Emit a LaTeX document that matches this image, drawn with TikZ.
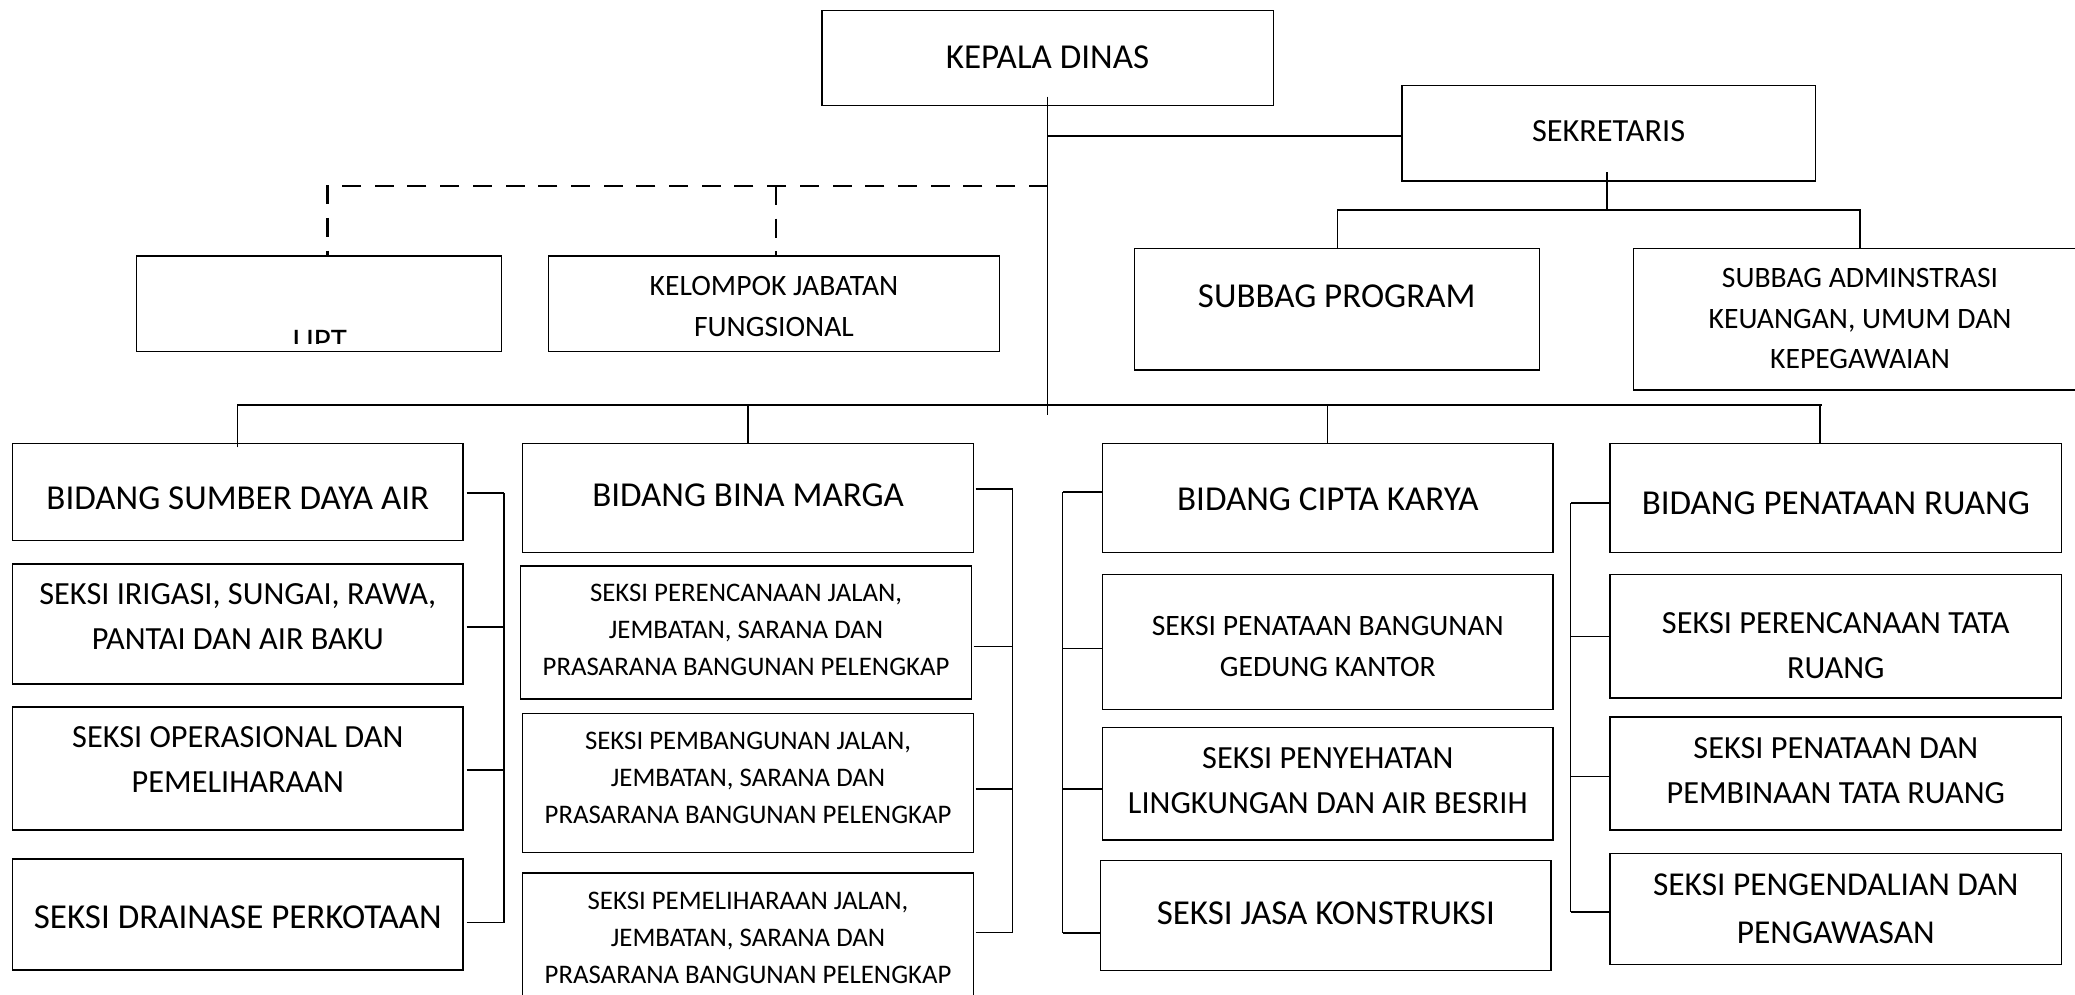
\documentclass[tikz,border=0pt]{standalone}
\usepackage{fontspec}
\setmainfont{Carlito}
\begin{document}
\begin{tikzpicture}[x=1pt,y=-1pt,
  box/.style={draw, line width=1.3pt, inner sep=0pt, anchor=center},
  conn/.style={line width=1.1pt},
  dashline/.style={line width=2.8pt, dash pattern=on 19pt off 13.7pt},
  fA/.style={font=\fontsize{35}{47.6}\selectfont, inner sep=0pt, align=center},
  fB/.style={font=\fontsize{32.3}{45}\selectfont, inner sep=0pt, align=center},
  fC/.style={font=\fontsize{29.6}{40.7}\selectfont, inner sep=0pt, align=center},
  fD/.style={font=\fontsize{26.8}{37}\selectfont, inner sep=0pt, align=center},
  fE/.style={font=\fontsize{33.4}{48}\selectfont, inner sep=0pt, align=center}]
\useasboundingbox (0,0) rectangle (2075,995);
\fill[white] (0,0) rectangle (2075,995);

% ---- top boxes
\node[box, minimum width=451.5pt, minimum height=95pt] (kepala) at (1047.75,58) {};
\node[box, minimum width=413.5pt, minimum height=95.3pt] (sekr) at (1608.75,133.35) {};
\node[box, minimum width=364.7pt, minimum height=95.7pt] (upt) at (318.95,303.85) {};
\node[box, minimum width=450.9pt, minimum height=95.7pt] (kelompok) at (773.85,303.85) {};
\node[box, minimum width=405.1pt, minimum height=121.7pt] (subprog) at (1337.05,309.15) {};
\node[box, minimum width=456.2pt, minimum height=141.7pt] (subadmin) at (1861.9,319.15) {};

% ---- column 1
\node[box, minimum width=450.4pt, minimum height=97.4pt] (bsda) at (237.8,492) {};
\node[box, minimum width=450.4pt, minimum height=120pt] (irigasi) at (237.8,624) {};
\node[box, minimum width=450.4pt, minimum height=123pt] (operasional) at (237.8,768.5) {};
\node[box, minimum width=450.4pt, minimum height=111pt] (drainase) at (237.8,914.5) {};
% ---- column 2
\node[box, minimum width=451pt, minimum height=109pt] (binamarga) at (748,498.1) {};
\node[box, minimum width=450.9pt, minimum height=133pt] (perencanaan) at (746,632.5) {};
\node[box, minimum width=451pt, minimum height=138.9pt] (pembangunan) at (748,782.95) {};
\node[box, minimum width=451pt, minimum height=132pt] (pemeliharaan) at (748,939) {};
% ---- column 3
\node[box, minimum width=450.4pt, minimum height=109pt] (ciptakarya) at (1327.8,498.1) {};
\node[box, minimum width=450.4pt, minimum height=134.7pt] (penataanbang) at (1327.8,641.95) {};
\node[box, minimum width=450.4pt, minimum height=112.5pt] (penyehatan) at (1327.8,783.75) {};
\node[box, minimum width=450.4pt, minimum height=110.1pt] (jasa) at (1325.8,915.35) {};
% ---- column 4
\node[box, minimum width=451.5pt, minimum height=109pt] (penataanruang) at (1835.75,498.1) {};
\node[box, minimum width=451.5pt, minimum height=123.4pt] (perencanaantata) at (1835.75,636.3) {};
\node[box, minimum width=451.5pt, minimum height=113pt] (penataandan) at (1835.75,773.5) {};
\node[box, minimum width=451.5pt, minimum height=110.8pt] (pengendalian) at (1835.75,908.9) {};

% ---- texts
\node[fA] (t-kepala) at (1047.5,57.5) {KEPALA DINAS};
\node[fB] (t-sekr) at (1608.6,131.5) {SEKRETARIS};
\node[fC] (t-kelompok) at (774,306.5) {KELOMPOK JABATAN\\FUNGSIONAL};
\node[fA] (t-subprog) at (1336.7,296.5) {SUBBAG PROGRAM};
\node[fC] (t-subadmin) at (1860,318.5) {SUBBAG ADMINSTRASI\\KEUANGAN, UMUM DAN\\KEPEGAWAIAN};
\begin{scope}
  \clip (136.6,256) rectangle (501.3,343.3);
  \node[anchor=base, inner sep=0pt, font=\fontsize{33}{40}\selectfont] (t-upt) at (319.8,351.5) {UPT};
\end{scope}

\node[fA] (t-bsda) at (237.8,498.5) {BIDANG SUMBER DAYA AIR};
\node[fB] (t-irigasi) at (237.8,616.5) {SEKSI IRIGASI, SUNGAI, RAWA,\\PANTAI DAN AIR BAKU};
\node[fB] (t-operasional) at (237.8,759.5) {SEKSI OPERASIONAL DAN\\PEMELIHARAAN};
\node[fA] (t-drainase) at (237.8,917.5) {SEKSI DRAINASE PERKOTAAN};

\node[fA] (t-binamarga) at (748,495) {BIDANG BINA MARGA};
\node[fD] (t-perencanaan) at (746,630) {SEKSI PERENCANAAN JALAN,\\JEMBATAN, SARANA DAN\\PRASARANA BANGUNAN PELENGKAP};
\node[fD] (t-pembangunan) at (748,778) {SEKSI PEMBANGUNAN JALAN,\\JEMBATAN, SARANA DAN\\PRASARANA BANGUNAN PELENGKAP};
\node[fD] (t-pemeliharaan) at (748,937.5) {SEKSI PEMELIHARAAN JALAN,\\JEMBATAN, SARANA DAN\\PRASARANA BANGUNAN PELENGKAP};

\node[fA] (t-ciptakarya) at (1327.8,499) {BIDANG CIPTA KARYA};
\node[fC] (t-penataanbang) at (1327.8,646.5) {SEKSI PENATAAN BANGUNAN\\GEDUNG KANTOR};
\node[fB] (t-penyehatan) at (1327.8,780.5) {SEKSI PENYEHATAN\\LINGKUNGAN DAN AIR BESRIH};
\node[fA] (t-jasa) at (1325.8,913.5) {SEKSI JASA KONSTRUKSI};

\node[fA] (t-penataanruang) at (1835.75,503) {BIDANG PENATAAN RUANG};
\node[fB] (t-perencanaantata) at (1835.75,645.5) {SEKSI PERENCANAAN TATA\\RUANG};
\node[fB] (t-penataandan) at (1835.75,770.5) {SEKSI PENATAAN DAN\\PEMBINAAN TATA RUANG};
\node[fE] (t-pengendalian) at (1835.75,909) {SEKSI PENGENDALIAN DAN\\PENGAWASAN};

% ---- junction coordinates
\coordinate (mainend) at (1047.75,415);
\coordinate (bar) at (1047.75,405);
\coordinate (barR) at (1822,405);
\coordinate (sj) at (1607,210);
\coordinate (dj) at (1047.75,186);

% ---- main connectors
\draw[conn] ([yshift=9.5pt]kepala.south) -- (mainend);
\draw[conn] ([yshift=-2.65pt]kepala.south |- sekr.west) -- ([yshift=-2.65pt]sekr.west);
\draw[conn] ([xshift=-1.75pt,yshift=9.3pt]sekr.south) -- (sj);
\draw[conn] (subprog.north) |- (sj) -| ([xshift=-1.9pt]subadmin.north);
\draw[dashline] (dj) -| ([xshift=8.6pt]upt.north);
\draw[dashline] ([xshift=2.15pt]kelompok.north |- dj) -- ([xshift=2.15pt]kelompok.north);

\draw[conn] ([yshift=-4.7pt]bsda.north) -- (bsda.north |- bar) -- (barR);
\draw[conn] (binamarga.north |- bar) -- (binamarga.north);
\draw[conn] (ciptakarya.north |- bar) -- (ciptakarya.north);
\draw[conn] ([xshift=-15.75pt]penataanruang.north |- bar) -- ([xshift=-15.75pt]penataanruang.north);

% ---- column 1 bracket
\coordinate (s1a) at (504,493);
\coordinate (s1b) at (504,627);
\coordinate (s1c) at (504,770);
\coordinate (s1d) at (504,922.6);
\draw[conn] (s1a) -- (s1d);
\draw[conn] ([xshift=3pt]bsda.east |- s1a) -- (s1a);
\draw[conn] ([xshift=3pt]irigasi.east |- s1b) -- (s1b);
\draw[conn] ([xshift=3pt]operasional.east |- s1c) -- (s1c);
\draw[conn] ([xshift=3pt]drainase.east |- s1d) -- (s1d);

% ---- column 2 bracket
\coordinate (s2a) at (1012.6,489);
\coordinate (s2b) at (1012.6,646.7);
\coordinate (s2c) at (1012.6,789);
\coordinate (s2d) at (1012.6,932.5);
\draw[conn] (s2a) -- (s2d);
\draw[conn] ([xshift=1.5pt]binamarga.east |- s2a) -- (s2a);
\draw[conn] ([xshift=1.5pt]perencanaan.east |- s2b) -- (s2b);
\draw[conn] ([xshift=1.5pt]pembangunan.east |- s2c) -- (s2c);
\draw[conn] ([xshift=1.5pt]pemeliharaan.east |- s2d) -- (s2d);

% ---- column 3 bracket
\coordinate (s3a) at (1062.8,492);
\coordinate (s3b) at (1062.8,648.6);
\coordinate (s3c) at (1062.8,789);
\coordinate (s3d) at (1062.8,933);
\draw[conn] (s3a) -- (s3d);
\draw[conn] (s3a) -- (ciptakarya.west |- s3a);
\draw[conn] (s3b) -- (penataanbang.west |- s3b);
\draw[conn] (s3c) -- (penyehatan.west |- s3c);
\draw[conn] (s3d) -- (jasa.west |- s3d);

% ---- column 4 bracket
\coordinate (s4a) at (1570.8,503);
\coordinate (s4b) at (1570.8,636.4);
\coordinate (s4c) at (1570.8,776.5);
\coordinate (s4d) at (1570.8,912);
\draw[conn] (s4a) -- (s4d);
\draw[conn] (s4a) -- (penataanruang.west |- s4a);
\draw[conn] (s4b) -- (perencanaantata.west |- s4b);
\draw[conn] (s4c) -- (penataandan.west |- s4c);
\draw[conn] (s4d) -- (pengendalian.west |- s4d);
\end{tikzpicture}
\end{document}
